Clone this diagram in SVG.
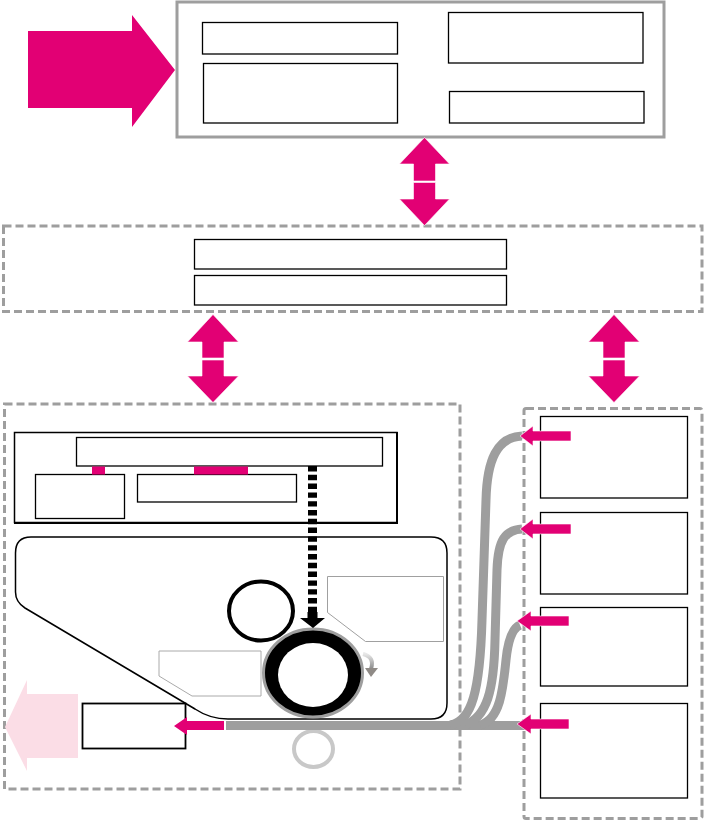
<svg xmlns="http://www.w3.org/2000/svg" width="705" height="822" viewBox="0 0 705 822">
<style>
.b{fill:#fff;stroke:#000;stroke-width:1.3}
.d{fill:none;stroke:#9e9e9e;stroke-width:3;stroke-dasharray:8 4}
.p{fill:#e20074}
.w{stroke:#fff;stroke-width:.6}
.t{fill:none;stroke:#9e9e9e;stroke-width:9}
</style>
<defs>
<linearGradient id="rot" x1="0" y1="0" x2="0" y2="1"><stop offset="0" stop-color="#e8e8e8"/><stop offset="1" stop-color="#8a8a8a"/></linearGradient>
</defs>
<rect width="705" height="822" fill="#fff"/>
<g id="top-panel">
<rect x="177" y="2" width="487" height="135" fill="#fff" stroke="#9e9e9e" stroke-width="3"/>
<rect class="b" x="202.500" y="22.500" width="195" height="31.500"/>
<rect class="b" x="203.500" y="63.500" width="194" height="59.500"/>
<rect class="b" x="448.500" y="12.500" width="194.500" height="50.500"/>
<rect class="b" x="449.500" y="91.500" width="194.500" height="31.500"/>
</g>
<g id="middle-panel">
<rect class="d" x="3.500" y="226" width="698.500" height="85.500"/>
<rect class="b" x="194.500" y="239.500" width="312" height="29.500"/>
<rect class="b" x="194.500" y="275.500" width="312" height="29.500"/>
</g>
<g id="left-panel">
<rect class="d" x="4.500" y="404" width="455.500" height="385"/>
<rect x="14.500" y="432.500" width="382.500" height="90" fill="#fff" stroke="#000" stroke-width="1.500"/>
<path d="M397 432V523H14" fill="none" stroke="#000" stroke-width="2"/>
<rect class="b" x="76.500" y="437.500" width="306" height="28.500"/>
<rect class="b" x="35.500" y="474.500" width="89" height="44"/>
<rect class="b" x="137.500" y="474.500" width="159" height="27.500"/>
<rect class="p" x="92" y="466.500" width="13" height="8"/>
<rect class="p" x="194" y="466.500" width="54" height="8"/>
<path d="M31 537H431Q447 537 447 553V703Q447 719 431 719H228Q210 719 195 709L25 608Q15.500 602 15.500 592V553Q15.500 537 31 537Z" fill="#fff" stroke="#000" stroke-width="1.500"/>
<polygon points="327.500,576.500 443.500,576.500 443.500,641.500 365.500,641.500 327.500,612.500" fill="#fff" stroke="#a0a0a0"/>
<polygon points="159,651 261,651 261,696 192,696 159,676" fill="#fff" stroke="#aaa"/>
<ellipse cx="261" cy="611" rx="32" ry="29.500" fill="#fff" stroke="#000" stroke-width="4"/>
<ellipse cx="313" cy="673" rx="49.500" ry="44" fill="#000" stroke="#9e9e9e" stroke-width="3"/>
<ellipse cx="313" cy="675" rx="35" ry="32" fill="#fff"/>
<ellipse cx="313.500" cy="749" rx="19.500" ry="18" fill="#fff" stroke="#c8c8c8" stroke-width="4"/>
<path d="M363 654Q375 657 371 669" fill="none" stroke="url(#rot)" stroke-width="4"/>
<polygon points="365,668 378,668 371,677" fill="#8f8a86"/>
<polygon points="5,727 27,680 27,694 78,694 78,758 27,758 27,771" fill="#fbdde6"/>
<rect x="82.500" y="703.500" width="103" height="45" fill="#fff" stroke="#000" stroke-width="1.800"/>
</g>
<g id="right-panel">
<rect class="d" x="524" y="408.500" width="178" height="410" rx="2"/>
<rect class="b" x="540.500" y="416.500" width="147" height="81.500"/>
<rect class="b" x="540.500" y="512.500" width="147" height="81.500"/>
<rect class="b" x="540.500" y="607.500" width="147" height="78.500"/>
<rect class="b" x="540.500" y="703.500" width="147" height="94.500"/>
</g>
<g id="connectors">
<rect x="226" y="721" width="304" height="9" fill="#9e9e9e"/>
<path class="t" d="M450 725C472 722 480 690 482 620L486 500C487 460 497 437 522 436"/>
<path class="t" d="M465 725C487 717 494 690 495 640L497 570C498 540 505 530 522 529"/>
<path class="t" d="M480 725C500 720 503 690 506 660C508 640 513 628 520 625"/>
<line x1="312.500" y1="466" x2="312.500" y2="618" stroke="#000" stroke-width="9" stroke-dasharray="5.400 3.400"/>
<polygon points="300,618 307.500,618 307.500,612 317.500,612 317.500,618 325,618 313,628" fill="#000"/>
<polygon class="p" points="175,70 132,127 132,108 28,108 28,31 132,31 132,15"/>
<polygon class="p w" points="424.500,137.500 449.500,164 435.500,164 435.500,181 413.500,181 413.500,164 399.500,164"/>
<polygon class="p w" points="424.500,225.500 449.500,199 435.500,199 435.500,182.500 413.500,182.500 413.500,199 399.500,199"/>
<polygon class="p w" points="213,314.500 238.500,342 224,342 224,358 202,358 202,342 187.500,342"/>
<polygon class="p w" points="213,402.500 238.500,376 224,376 224,360 202,360 202,376 187.500,376"/>
<polygon class="p w" points="614,314.500 639.500,342 625,342 625,358 603,358 603,342 588.500,342"/>
<polygon class="p w" points="614,402.500 639.500,376 625,376 625,360 603,360 603,376 588.500,376"/>
<polygon class="p" points="174,726 187,717 187,721 224,721 224,730 187,730 187,735"/>
<polygon class="p w" points="520,436 533,426 533,431 571,431 571,441 533,441 533,446"/>
<polygon class="p w" points="520,529 533,519 533,524 571,524 571,534 533,534 533,539"/>
<polygon class="p w" points="517,621 531,611 531,616 569,616 569,626 531,626 531,631"/>
<polygon class="p w" points="517,724 531,714 531,719 569,719 569,729 531,729 531,734"/>
</g>
</svg>
